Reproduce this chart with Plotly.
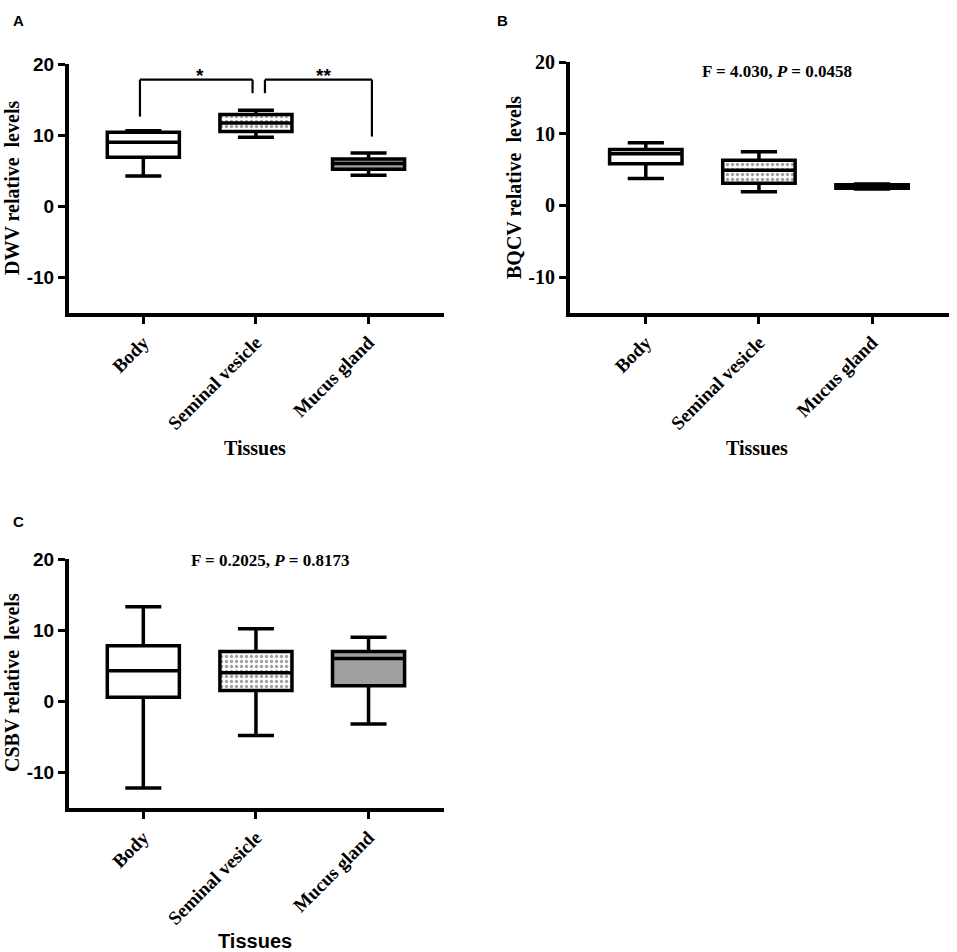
import plotly.graph_objects as go

categories = ["Body", "Seminal vesicle", "Mucus gland"]

dwv_lower = [4.25, 9.7, 4.35]
dwv_q1 = [6.9, 10.5, 5.2]
dwv_median = [9.0, 11.7, 6.0]
dwv_q3 = [10.4, 12.9, 6.65]
dwv_upper = [10.6, 13.5, 7.5]

bqcv_lower = [3.75, 1.9, 2.3]
bqcv_q1 = [5.8, 3.1, 2.4]
bqcv_median = [7.2, 4.9, 2.65]
bqcv_q3 = [7.8, 6.3, 2.9]
bqcv_upper = [8.75, 7.5, 3.0]

csbv_lower = [-12.2, -4.8, -3.2]
csbv_q1 = [0.55, 1.5, 2.2]
csbv_median = [4.3, 4.0, 6.0]
csbv_q3 = [7.8, 7.0, 7.0]
csbv_upper = [13.3, 10.2, 9.0]

y_ticks = [-10, 0, 10, 20]
y_tick_labels = ["-10", "0", "10", "20"]
fill_colors = ["white", "white", "#a0a0a0"]
fill_patterns = ["", ".", ""]

# significance brackets for DWV (category index, value)
bracket_x = [[-0.03, -0.03, 0.97, 0.97], [1.08, 1.08, 2.03, 2.03]]
bracket_y = [[12.6, 17.8, 17.8, 15.9], [15.9, 17.8, 17.8, 9.8]]
star_text = ["*", "**"]
star_x = [0.5, 1.6]
star_y = [18.4, 18.4]

stat_texts = ["F = 4.030, <i>P</i> = 0.0458", "F = 0.2025, <i>P</i> = 0.8173"]

W, H = 957, 952
SERIF = "Liberation Serif"
SANS = "Liberation Sans"

fig = go.Figure()

panels = [
    ("x", "y", dwv_lower, dwv_q1, dwv_median, dwv_q3, dwv_upper),
    ("x2", "y2", bqcv_lower, bqcv_q1, bqcv_median, bqcv_q3, bqcv_upper),
    ("x3", "y3", csbv_lower, csbv_q1, csbv_median, csbv_q3, csbv_upper),
]

for xa, ya, lo, q1, med, q3, up in panels:
    fig.add_trace(go.Bar(
        x=categories, base=q1, y=[b - a for a, b in zip(q1, q3)],
        width=0.64, xaxis=xa, yaxis=ya, showlegend=False, hoverinfo="skip",
        marker=dict(color=fill_colors, line=dict(width=0),
                    pattern=dict(shape=fill_patterns, fgcolor="black",
                                 bgcolor="white", size=5, solidity=0.35)),
    ))
for xa, ya, lo, q1, med, q3, up in panels:
    fig.add_trace(go.Box(
        x=categories, q1=q1, median=med, q3=q3, lowerfence=lo, upperfence=up,
        width=0.64, whiskerwidth=0.5, xaxis=xa, yaxis=ya, showlegend=False,
        line=dict(color="black", width=3.5), fillcolor="rgba(0,0,0,0)",
        boxpoints=False,
    ))

def px_x(v):
    return v / W

def px_y(v):
    return 1 - v / H

def xaxis(domain, anchor, rng):
    return dict(domain=domain, anchor=anchor, type="category", range=rng,
                automargin=False,
                showline=True, linewidth=4, linecolor="black",
                ticks="outside", ticklen=7, tickwidth=3, tickcolor="black",
                tickangle=-45, showgrid=False, zeroline=False,
                tickfont=dict(family=SERIF, size=19, color="black", weight="bold"))

def yaxis(domain, anchor, family, size):
    return dict(domain=domain, anchor=anchor, range=[-15, 20],
                tickmode="array", tickvals=y_ticks, ticktext=y_tick_labels,
                automargin=False,
                showline=True, linewidth=4, linecolor="black",
                ticks="outside", ticklen=7, tickwidth=3, tickcolor="black",
                showgrid=False, zeroline=False,
                tickfont=dict(family=family, size=size, color="black", weight="bold"))

fig.update_layout(
    width=W, height=H, margin=dict(l=0, r=0, t=0, b=0, pad=0, autoexpand=False),
    paper_bgcolor="white", plot_bgcolor="white",
    barmode="overlay", boxmode="overlay",
    xaxis=xaxis([px_x(69), px_x(444)], "y", [-0.66, 2.67]),
    yaxis=yaxis([px_y(313), px_y(64)], "x", SANS, 19),
    xaxis2=xaxis([px_x(570), px_x(949)], "y2", [-0.67, 2.68]),
    yaxis2=yaxis([px_y(313), px_y(62)], "x2", SERIF, 20),
    xaxis3=xaxis([px_x(69), px_x(444)], "y3", [-0.66, 2.67]),
    yaxis3=yaxis([px_y(808), px_y(559)], "x3", SANS, 19),
)

# brackets
for bx, by in zip(bracket_x, bracket_y):
    for i in range(3):
        fig.add_shape(type="line", xref="x", yref="y",
                      x0=bx[i], y0=by[i], x1=bx[i + 1], y1=by[i + 1],
                      line=dict(color="black", width=2.2))
for t, sx, sy in zip(star_text, star_x, star_y):
    fig.add_annotation(x=sx, y=sy, xref="x", yref="y", text=t, showarrow=False,
                       xanchor="center", yanchor="middle",
                       font=dict(family=SANS, size=19, color="black", weight="bold"))

def ann(text, x, y, family, size, angle=0):
    fig.add_annotation(x=px_x(x), y=px_y(y), xref="paper", yref="paper", text=text,
                       showarrow=False, xanchor="center", yanchor="middle",
                       textangle=angle,
                       font=dict(family=family, size=size, color="black", weight="bold"))

# panel letters
ann("A", 18, 20, SANS, 15)
ann("B", 502, 20, SANS, 15)
ann("C", 18, 521, SANS, 15)

# y titles
ann("DWV relative\u00a0 levels", 12, 188, SERIF, 20, -90)
ann("BQCV relative\u00a0 levels", 514, 188, SERIF, 20, -90)
ann("CSBV relative\u00a0 levels", 12, 683, SERIF, 20, -90)

# x titles
ann("Tissues", 255, 448, SERIF, 20)
ann("Tissues", 757, 448, SERIF, 20)
ann("Tissues", 255, 941, SANS, 20)

# statistics
ann(stat_texts[0], 777, 72, SERIF, 17)
ann(stat_texts[1], 270, 560, SERIF, 17)

fig.write_html(
    "out.html",
    config={"displayModeBar": False},
    post_script="document.body.style.margin='0px';document.body.style.overflow='hidden';",
)
